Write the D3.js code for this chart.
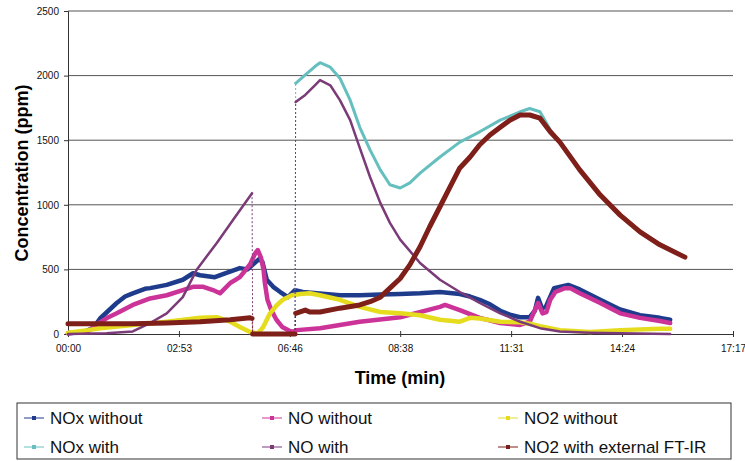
<html>
<script src="https://d3js.org/d3.v7.min.js"></script>
<body style="margin:0;background:#fff">
<svg id="chart" width="745" height="461"></svg>
<script>
// Time in seconds, values in ppm
const noxWithout = [[0,5],[25,15],[40,50],[50,120],[63,180],[76,240],[89,290],[101,315],[120,350],[128,355],[154,380],[179,420],[195,470],[206,455],[229,440],[245,470],[268,510],[280,500],[290,545],[298,580],[303,560],[310,420],[320,365],[331,325],[343,285],[354,340],[366,325],[388,315],[424,300],[455,300],[487,305],[518,310],[549,315],[580,325],[611,310],[627,290],[642,265],[658,230],[674,180],[689,150],[705,130],[720,130],[728,180],[733,280],[739,200],[745,210],[750,265],[758,355],[780,380],[798,345],[830,265],[861,190],[892,145],[923,125],[939,110]];
const noWithout = [[0,5],[31,20],[50,90],[63,130],[76,160],[101,225],[128,275],[154,300],[179,340],[195,365],[211,365],[226,340],[237,315],[253,395],[268,440],[284,540],[292,625],[296,650],[301,590],[305,495],[307,395],[311,265],[317,185],[325,110],[334,55],[349,15],[357,30],[393,45],[455,95],[518,130],[580,210],[588,225],[611,185],[642,125],[674,85],[705,70],[720,95],[728,185],[733,240],[740,160],[746,170],[752,265],[760,325],[775,355],[783,355],[798,315],[830,240],[861,160],[892,125],[923,100],[939,85]];
const no2Without = [[0,10],[31,30],[50,45],[101,70],[154,95],[206,125],[232,130],[253,95],[268,55],[284,15],[296,5],[304,50],[315,160],[326,225],[335,265],[349,300],[362,310],[377,315],[393,300],[424,265],[455,210],[487,170],[518,160],[549,145],[580,110],[611,95],[627,125],[642,120],[674,95],[705,90],[720,80],[736,60],[767,30],[814,15],[861,30],[923,40],[939,40]];
const noxWith = [[354,0],[355,1940],[370,2005],[385,2070],[393,2100],[409,2065],[424,1980],[440,1810],[455,1600],[471,1425],[487,1270],[502,1155],[518,1130],[533,1170],[549,1245],[580,1370],[611,1485],[642,1565],[674,1655],[705,1720],[720,1745],[736,1720],[752,1580],[767,1490],[798,1275],[830,1080],[861,925],[892,795],[923,695],[962,600]];
const noWith = [[0,0],[60,5],[101,20],[128,85],[154,160],[179,285],[201,500],[232,705],[257,880],[287,1090],[288,0],[354,0],[355,1795],[370,1850],[385,1925],[393,1965],[409,1925],[424,1810],[440,1655],[455,1440],[471,1215],[487,1015],[502,860],[518,730],[549,550],[580,420],[611,325],[642,240],[674,160],[705,95],[736,45],[767,20],[814,10],[861,5],[939,0]];
const no2With = [[0,80],[101,80],[154,85],[206,95],[253,110],[284,125],[287,120],[288,0],[354,0],[355,160],[370,185],[377,170],[393,170],[424,200],[455,225],[471,250],[487,285],[502,355],[518,430],[533,535],[549,675],[564,830],[580,985],[596,1140],[611,1285],[627,1370],[642,1465],[658,1540],[674,1600],[689,1655],[705,1695],[720,1695],[736,1670],[752,1565],[767,1485],[798,1270],[830,1075],[861,920],[892,790],[923,690],[962,595]];

const seriesNames = ["NOx without", "NO without", "NO2 without", "NOx with", "NO with", "NO2 with external FT-IR"];
const seriesData = [noxWithout, noWithout, no2Without, noxWith, noWith, no2With];
const seriesColors = ["#1f3c8c", "#cc3399", "#e6dc1e", "#66bfbf", "#7b3b78", "#7f1f1a"];
const seriesWidths = [4.5, 4.5, 4.5, 3, 2.5, 5];

const xTickTimes = [0, 173, 346, 518, 691, 864, 1037];
const xTickLabels = ["00:00", "02:53", "06:46", "08:38", "11:31", "14:24", "17:17"];
const yTicks = [0, 500, 1000, 1500, 2000, 2500];

const plotLeft = 68, plotRight = 733, plotTop = 11, plotBottom = 334;
const svg = d3.select("#chart");
const font = "'Liberation Sans', Arial, sans-serif";

const x = d3.scaleLinear().domain([0, 1037]).range([plotLeft, plotRight]);
const y = d3.scaleLinear().domain([0, 2500]).range([plotBottom, plotTop]);

// Grid lines
svg.append("g")
  .selectAll("line")
  .data(yTicks.filter(d => d > 0))
  .enter().append("line")
  .attr("x1", plotLeft).attr("x2", plotRight)
  .attr("y1", d => y(d)).attr("y2", d => y(d))
  .attr("stroke", "#555").attr("stroke-width", 1);

// Y axis
const yAxis = svg.append("g")
  .attr("transform", "translate(" + plotLeft + ",0)")
  .call(d3.axisLeft(y).tickValues(yTicks).tickFormat(d3.format("d")).tickSize(4).tickPadding(5));
yAxis.select(".domain").attr("stroke", "#333");
yAxis.selectAll("line").attr("stroke", "#333");
yAxis.selectAll("text").attr("font-family", font).attr("font-size", 10).attr("fill", "#111");

// X axis
const xAxis = svg.append("g")
  .attr("transform", "translate(0," + plotBottom + ")")
  .call(d3.axisBottom(x).tickValues(xTickTimes).tickFormat((d, i) => xTickLabels[i]).tickSize(3).tickPadding(8));
xAxis.select(".domain").attr("stroke", "#333");
xAxis.selectAll(".tick line").attr("y1", -3).attr("y2", 3).attr("stroke", "#333");
xAxis.selectAll("text").attr("font-family", font).attr("font-size", 10).attr("fill", "#111");

// Series: thick lines, with thin dashed connectors for instantaneous jumps
const line = d3.line().x(d => x(d[0])).y(d => y(d[1]));
seriesData.forEach((data, k) => {
  const runs = [[data[0]]];
  const jumps = [];
  for (let i = 1; i < data.length; i++) {
    if (data[i][0] - data[i - 1][0] <= 1) {
      jumps.push([data[i - 1], data[i]]);
      runs.push([data[i]]);
    } else {
      runs[runs.length - 1].push(data[i]);
    }
  }
  const g = svg.append("g");
  g.selectAll("path.jump").data(jumps).enter().append("path")
    .attr("d", line)
    .attr("fill", "none")
    .attr("stroke", seriesColors[k])
    .attr("stroke-width", 1)
    .attr("stroke-dasharray", "2,2");
  g.selectAll("path.run").data(runs.filter(r => r.length > 1)).enter().append("path")
    .attr("d", line)
    .attr("fill", "none")
    .attr("stroke", seriesColors[k])
    .attr("stroke-width", seriesWidths[k])
    .attr("stroke-linejoin", "round")
    .attr("stroke-linecap", "round");
});

// Axis titles
svg.append("text")
  .attr("x", 400).attr("y", 384)
  .attr("text-anchor", "middle")
  .attr("font-family", font).attr("font-weight", "bold").attr("font-size", 18)
  .text("Time (min)");
svg.append("text")
  .attr("transform", "translate(28,173) rotate(-90)")
  .attr("text-anchor", "middle")
  .attr("font-family", font).attr("font-weight", "bold").attr("font-size", 18)
  .text("Concentration (ppm)");

// Legend
svg.append("rect")
  .attr("x", 17).attr("y", 403).attr("width", 714).attr("height", 56)
  .attr("fill", "none").attr("stroke", "#333").attr("stroke-width", 1);
const legendX = [24, 262, 498];
const legendY = [418, 447];
const legend = svg.append("g").selectAll("g")
  .data(seriesNames).enter().append("g")
  .attr("transform", (d, i) => "translate(" + legendX[i % 3] + "," + legendY[Math.floor(i / 3)] + ")");
legend.append("line")
  .attr("x1", 0).attr("x2", 20).attr("y1", 0).attr("y2", 0)
  .attr("stroke", (d, i) => seriesColors[i]).attr("stroke-width", 1);
legend.append("rect")
  .attr("x", 8).attr("y", -2).attr("width", 4).attr("height", 4)
  .attr("fill", (d, i) => seriesColors[i]);
legend.append("text")
  .attr("x", 26).attr("y", 6)
  .attr("font-family", font).attr("font-size", 17).attr("fill", "#111")
  .text(d => d);
</script>
</body>
</html>
